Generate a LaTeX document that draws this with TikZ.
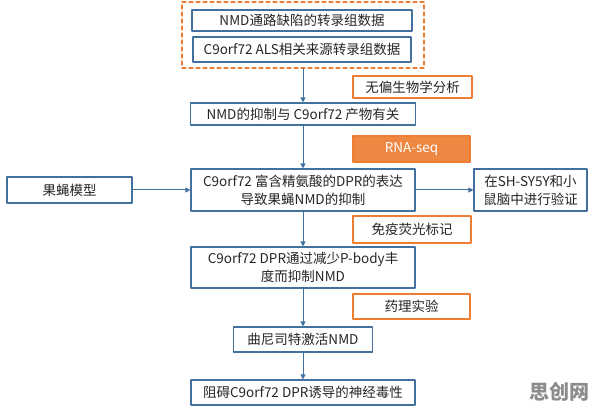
\documentclass[tikz,border=0pt]{standalone}
\usepackage{fontspec}
\setmainfont{Noto Sans CJK SC}
\usetikzlibrary{arrows.meta}
\definecolor{lineblue}{RGB}{65,113,156}
\definecolor{tagorange}{RGB}{237,125,49}
\begin{document}
\begin{tikzpicture}[x=1pt, y=-1pt, line cap=round, line join=round,
    box/.style={draw=lineblue, line width=1.1pt, fill=white, text=black!85,
      inner sep=0pt, align=center, font=\fontsize{13.5}{18}\selectfont},
    tag/.style={draw=tagorange, line width=1.1pt, fill=white, text=black!85,
      inner sep=0pt, align=center, font=\fontsize{13.5}{18}\selectfont},
    link/.style={draw=lineblue, line width=1pt, -{Triangle[length=5pt, width=5pt]}}]
  \useasboundingbox (0,0) rectangle (596,411);
  % top group of data sets
  \node[draw=tagorange, line width=1.1pt, dash pattern=on 4pt off 3pt,
    minimum width=242pt, minimum height=66pt] (grp) at (303,35) {};
  \node[box, minimum width=220pt, minimum height=21pt] (d1) at (302,20.5) {NMD通路缺陷的转录组数据};
  \node[box, minimum width=218pt, minimum height=25pt] (d2) at (302,49.5) {C9orf72 ALS相关来源转录组数据};
  % main column
  \node[box, minimum width=225pt, minimum height=22pt] (b1) at (303,114) {NMD的抑制与 C9orf72 产物有关};
  \node[box, minimum width=224pt, minimum height=42pt] (b2) at (303,190) {C9orf72 富含精氨酸的DPR的表达\\导致果蝇NMD的抑制};
  \node[box, minimum width=224pt, minimum height=41pt] (b3) at (303,267.5) {C9orf72 DPR通过减少P-body丰\\度而抑制NMD};
  \node[box, minimum width=139pt, minimum height=25pt] (b4) at (303,339.5) {曲尼司特激活NMD};
  \node[box, minimum width=224pt, minimum height=25pt] (b5) at (303,392.5) {阻碍C9orf72 DPR诱导的神经毒性};
  % side boxes
  \node[box, minimum width=125pt, minimum height=26pt] (fly) at (69.5,190) {果蝇模型};
  \node[box, minimum width=113pt, minimum height=42pt] (val) at (530.5,190) {在SH-SY5Y和小\\鼠脑中进行验证};
  % methods
  \node[tag, minimum width=119pt, minimum height=22pt] (t1) at (412.5,87) {无偏生物学分析};
  \node[tag, fill=tagorange!92!white, text=white, minimum width=117pt, minimum height=26pt] (t2) at (411.5,149) {RNA-seq};
  \node[tag, minimum width=118pt, minimum height=27pt] (t3) at (412,229.5) {免疫荧光标记};
  \node[tag, minimum width=117pt, minimum height=25pt] (t4) at (411.5,306.5) {药理实验};
  % arrows
  \draw[link] (grp.south) -- (b1.north);
  \draw[link] (b1.south) -- (b2.north);
  \draw[link] (b2.south) -- (b3.north);
  \draw[link] (b3.south) -- (b4.north);
  \draw[link] (b4.south) -- (b5.north);
  \draw[link] (fly.east) -- (b2.west);
  \draw[link] (b2.east) -- (val.west);
  % watermark
  \node[text=black!45, font=\fontsize{20}{20}\selectfont\bfseries] (mark) at (559,392) {思创网};
\end{tikzpicture}
\end{document}
